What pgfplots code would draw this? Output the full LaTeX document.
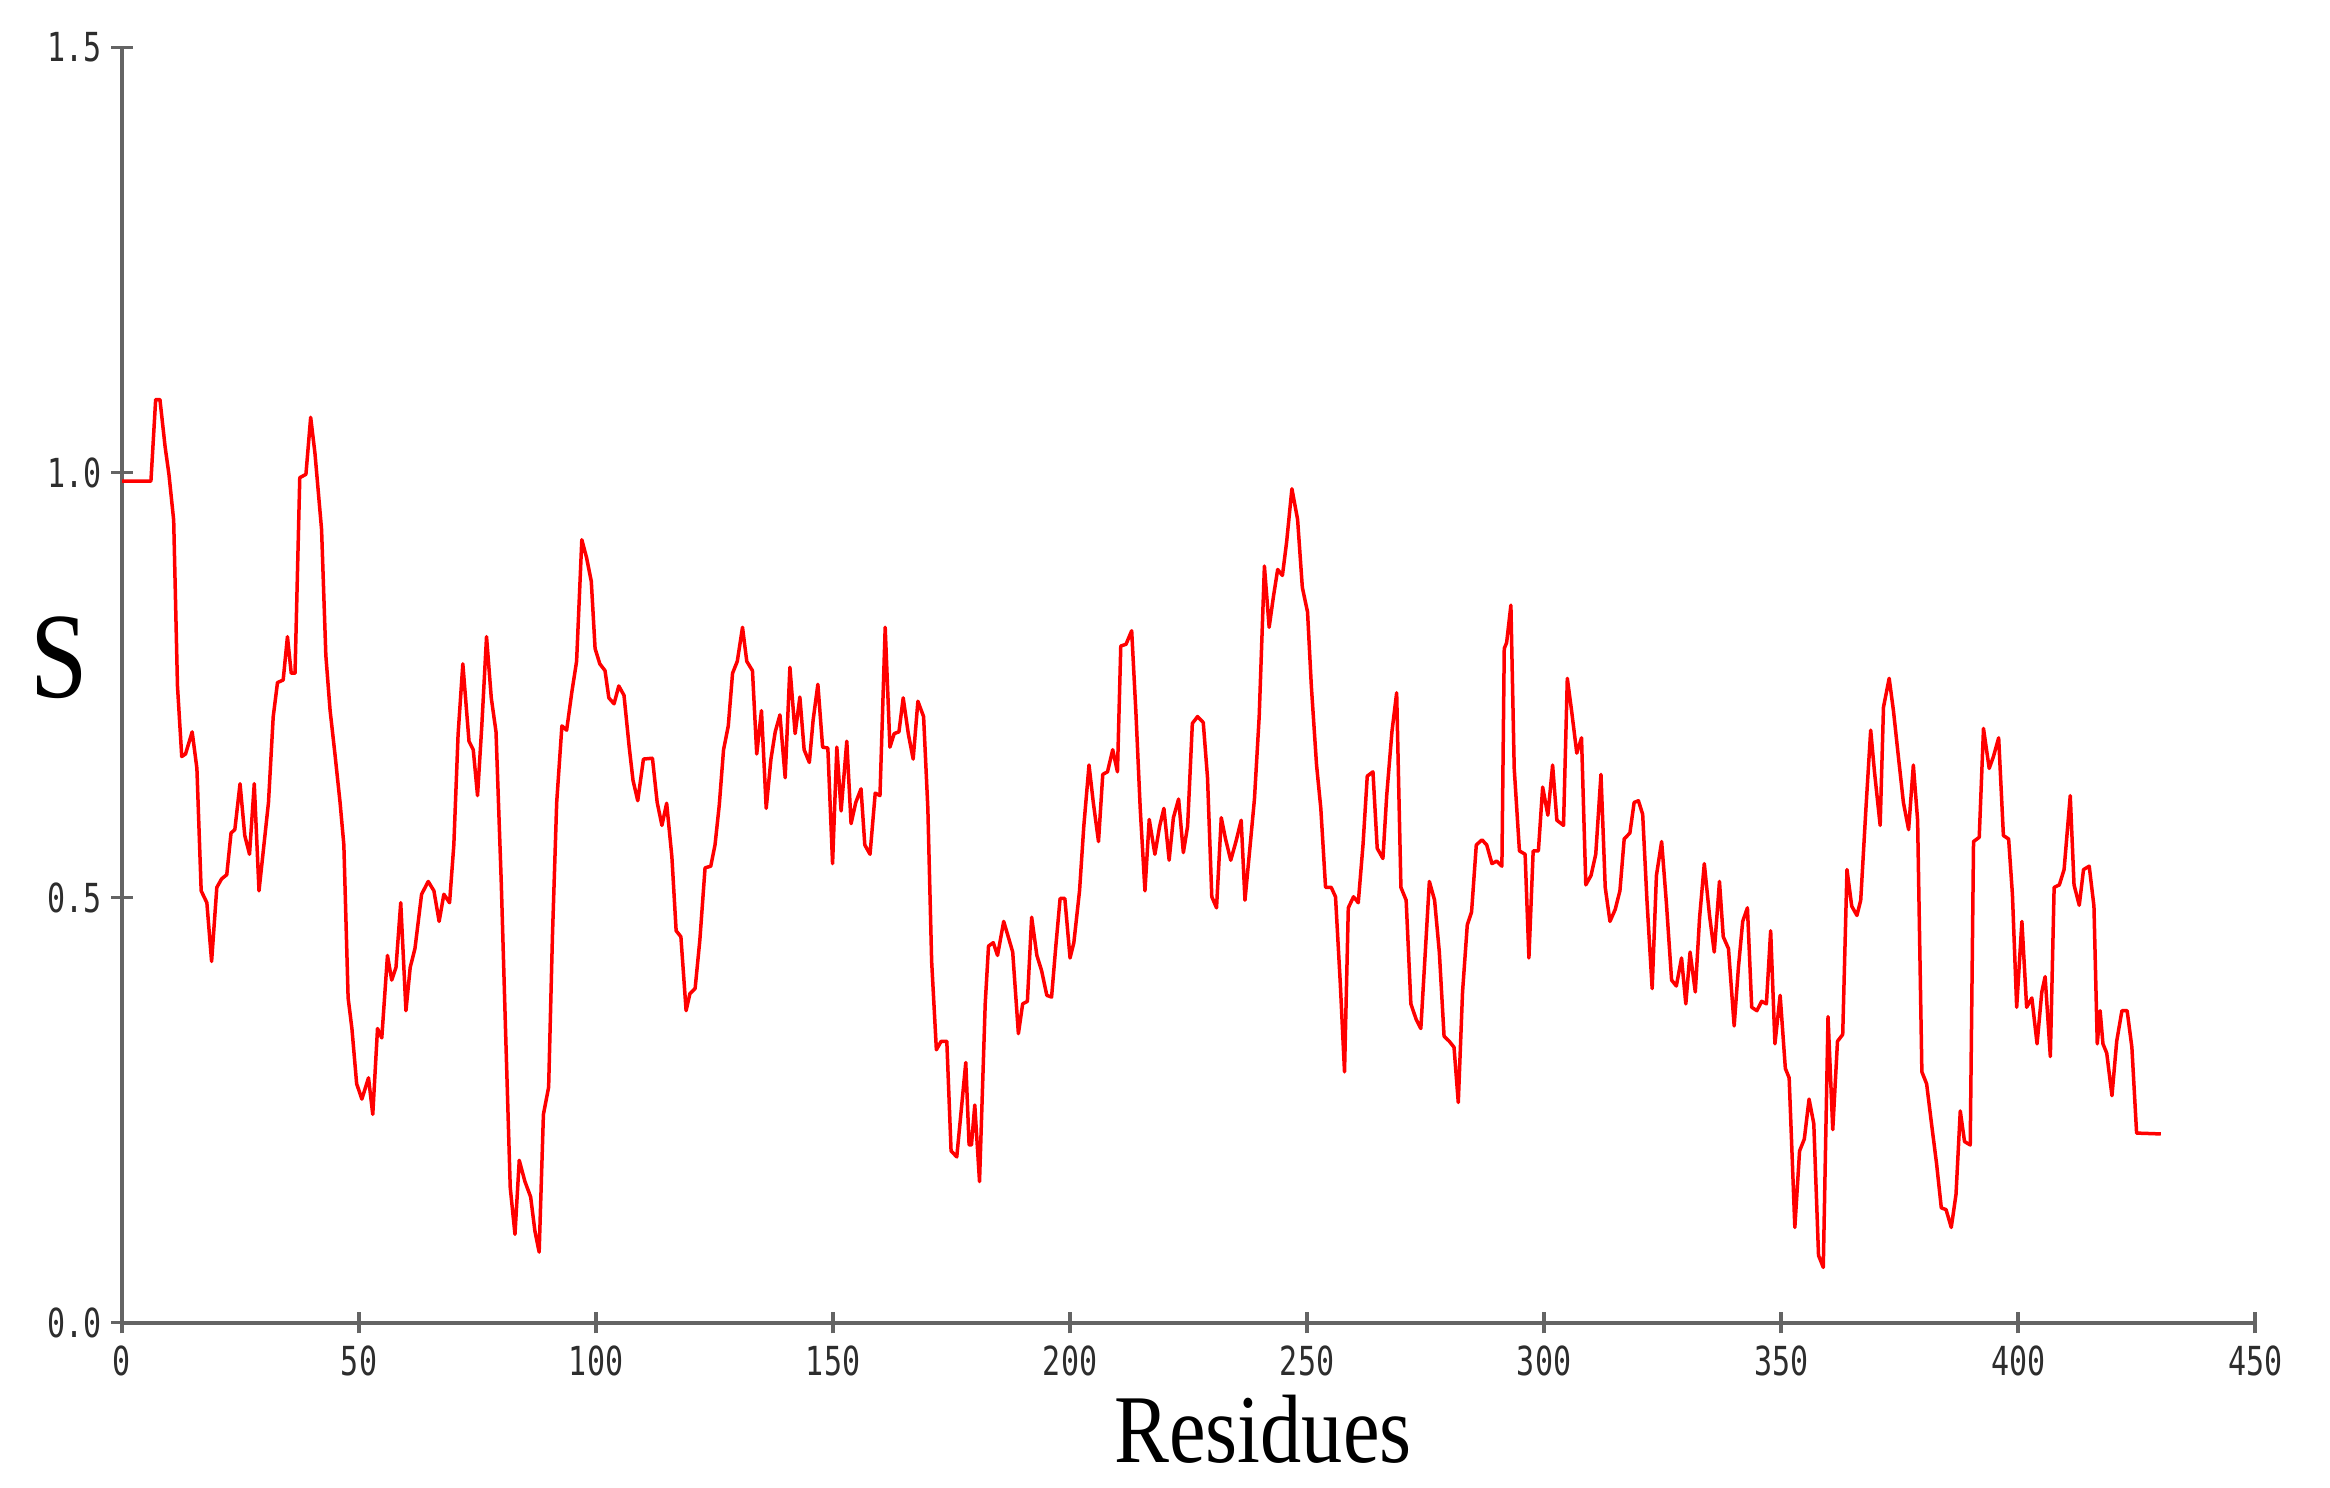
\documentclass[border=0pt]{standalone}
\usepackage{pgfplots}
\pgfplotsset{compat=1.18}
\usepackage{fontspec}
\setmainfont{Liberation Serif}
\newfontfamily\tickfont{DejaVu Sans Mono}
\definecolor{axisgray}{RGB}{100,100,100}
\definecolor{labelgray}{RGB}{45,45,45}
\pgfplotstableread{
r v
0 0.99
6.1 0.99
7.1 1.086
8.0 1.086
9.1 1.03
9.9 0.998
10.9 0.944
11.7 0.749
12.6 0.666
13.4 0.669
14.8 0.695
15.8 0.652
16.7 0.508
17.9 0.494
18.9 0.425
20.0 0.512
21.0 0.522
22.1 0.527
23.0 0.576
23.8 0.58
24.9 0.634
25.9 0.573
26.9 0.551
27.9 0.634
28.9 0.508
30.9 0.612
31.9 0.713
32.8 0.753
34.0 0.756
34.9 0.807
35.7 0.764
36.5 0.764
37.5 0.994
38.8 0.998
39.8 1.065
40.7 1.023
42.1 0.933
43.0 0.785
43.9 0.72
44.9 0.67
46.0 0.612
46.8 0.562
47.7 0.382
48.5 0.346
49.5 0.281
50.6 0.263
52.0 0.288
52.9 0.245
53.9 0.346
54.8 0.335
56.0 0.432
56.9 0.403
57.8 0.418
58.8 0.494
59.9 0.367
60.8 0.418
61.8 0.44
63.2 0.504
64.6 0.519
65.8 0.508
66.9 0.472
67.9 0.504
69.1 0.494
70.0 0.562
70.9 0.692
71.9 0.775
73.2 0.684
74.1 0.674
75.0 0.62
75.9 0.702
76.9 0.807
77.9 0.735
78.9 0.695
80.0 0.519
80.9 0.346
81.9 0.159
82.9 0.104
83.8 0.191
85.0 0.166
86.2 0.148
87.1 0.108
88.0 0.083
88.9 0.245
90.0 0.277
90.8 0.454
91.7 0.612
92.8 0.702
93.8 0.697
94.9 0.742
95.9 0.778
97.0 0.921
98.0 0.9
99.0 0.872
99.8 0.793
100.8 0.775
101.9 0.767
102.7 0.735
103.8 0.728
104.8 0.749
105.9 0.738
107.0 0.677
107.8 0.638
108.8 0.614
110.0 0.663
111.9 0.664
112.9 0.612
113.9 0.585
114.9 0.611
116.0 0.548
116.9 0.461
117.9 0.454
119.0 0.367
119.8 0.387
120.9 0.393
121.9 0.45
123.0 0.535
124.2 0.537
125.1 0.562
126.0 0.609
126.9 0.674
127.9 0.702
128.8 0.764
129.8 0.778
130.9 0.818
131.8 0.778
133.0 0.767
133.9 0.669
134.9 0.72
135.9 0.605
136.9 0.663
137.8 0.695
138.8 0.715
139.9 0.641
140.9 0.771
142.0 0.693
143.0 0.736
143.9 0.674
145.0 0.659
145.8 0.709
146.8 0.751
147.8 0.677
148.9 0.676
149.9 0.54
150.8 0.677
151.7 0.602
152.9 0.684
153.8 0.587
154.8 0.612
155.9 0.628
156.7 0.562
157.8 0.551
158.9 0.623
159.9 0.62
161.0 0.818
162.0 0.677
162.9 0.693
163.9 0.695
164.8 0.735
165.9 0.692
166.9 0.663
167.9 0.731
169.1 0.713
170.0 0.605
170.8 0.425
171.8 0.321
172.8 0.331
174.0 0.331
174.9 0.202
176.1 0.195
177.2 0.259
178.0 0.306
178.7 0.209
179.2 0.209
179.9 0.256
180.9 0.166
182.1 0.375
182.8 0.443
183.8 0.447
184.7 0.432
186.0 0.472
186.8 0.457
187.9 0.436
189.1 0.34
190.0 0.375
191.0 0.378
191.9 0.477
193.0 0.432
194.0 0.414
195.1 0.385
196.1 0.383
197.0 0.443
197.9 0.499
198.9 0.499
200.0 0.429
200.8 0.447
202.0 0.508
202.9 0.584
204.0 0.656
204.9 0.612
206.0 0.566
206.9 0.645
207.9 0.648
209.0 0.674
210.0 0.648
210.7 0.796
211.8 0.798
213.0 0.814
213.9 0.717
214.8 0.605
215.8 0.508
216.7 0.592
217.9 0.551
218.9 0.584
219.8 0.605
220.9 0.544
221.8 0.594
222.9 0.616
223.9 0.553
224.8 0.584
225.8 0.705
226.9 0.713
228.1 0.706
229.0 0.641
229.9 0.501
230.9 0.488
231.9 0.594
232.8 0.569
233.9 0.544
235.0 0.566
236.1 0.591
236.9 0.497
238.0 0.562
238.9 0.616
239.9 0.713
241.0 0.89
242.0 0.818
242.9 0.854
243.8 0.886
244.8 0.879
245.7 0.919
246.8 0.981
248.0 0.945
249.0 0.865
250.1 0.836
250.9 0.749
252.0 0.656
252.9 0.605
253.9 0.512
255.1 0.512
256.0 0.501
257.0 0.4
257.9 0.295
258.7 0.488
259.8 0.501
260.8 0.494
261.8 0.562
262.7 0.643
263.9 0.648
264.8 0.558
266.0 0.546
266.8 0.62
267.9 0.695
268.9 0.741
269.8 0.512
270.9 0.497
271.9 0.375
273.0 0.357
274.0 0.346
274.9 0.432
275.8 0.519
276.9 0.497
277.9 0.436
278.9 0.337
280.0 0.331
281.0 0.324
281.9 0.259
282.8 0.389
283.8 0.468
284.7 0.483
285.7 0.562
286.9 0.568
287.9 0.562
289.0 0.54
290.0 0.543
291.1 0.537
291.6 0.793
292.1 0.8
293.0 0.844
293.7 0.652
294.8 0.555
296.0 0.551
296.8 0.429
297.7 0.555
298.8 0.555
299.7 0.63
300.8 0.597
301.8 0.656
302.7 0.591
304.1 0.585
304.9 0.758
305.8 0.72
306.9 0.67
307.9 0.688
308.8 0.515
309.9 0.526
310.9 0.551
312.0 0.645
312.9 0.512
313.9 0.472
315.0 0.486
316.0 0.508
316.9 0.569
318.1 0.576
319.0 0.612
319.9 0.614
320.8 0.598
321.7 0.497
322.8 0.393
323.7 0.526
324.8 0.566
325.8 0.494
326.9 0.403
327.9 0.396
329.0 0.429
329.9 0.375
330.8 0.436
331.9 0.389
332.8 0.476
333.8 0.54
334.9 0.479
335.9 0.436
337.0 0.519
337.8 0.454
338.9 0.44
340.1 0.349
341.0 0.418
341.9 0.472
342.9 0.488
343.8 0.371
344.9 0.367
345.9 0.378
346.9 0.375
347.8 0.461
348.7 0.328
349.8 0.385
350.9 0.299
351.7 0.288
352.9 0.112
353.9 0.202
354.9 0.216
355.9 0.263
356.9 0.234
357.9 0.079
358.9 0.065
359.9 0.36
360.9 0.227
361.9 0.331
363.0 0.339
363.9 0.533
364.9 0.49
366.0 0.479
366.8 0.497
367.9 0.605
368.9 0.697
369.7 0.648
370.9 0.585
371.6 0.724
372.8 0.758
373.7 0.72
374.8 0.663
375.8 0.612
376.9 0.58
377.9 0.656
378.8 0.591
379.7 0.295
380.7 0.281
381.8 0.231
382.8 0.187
383.8 0.135
384.8 0.133
385.9 0.112
386.9 0.151
387.8 0.249
388.7 0.213
389.9 0.209
390.6 0.566
391.8 0.571
392.7 0.699
393.9 0.652
394.8 0.666
395.9 0.688
396.9 0.573
398.0 0.569
398.8 0.504
399.7 0.371
400.8 0.472
401.8 0.371
402.9 0.382
404.0 0.328
405.0 0.389
405.7 0.407
406.8 0.313
407.6 0.512
408.7 0.515
409.7 0.533
411.0 0.62
411.8 0.515
412.9 0.491
413.8 0.533
415.0 0.537
416.0 0.49
416.7 0.328
417.3 0.367
417.9 0.328
418.7 0.317
419.8 0.267
420.8 0.331
421.9 0.367
423.0 0.367
424.0 0.324
425.0 0.223
430.1 0.222
}\datatable
\begin{document}
\begin{tikzpicture}
\begin{axis}[
  scale only axis,
  width=639.9pt, height=382.5pt,
  xmin=0, xmax=450, ymin=0, ymax=1.5,
  axis x line*=bottom, axis y line*=left,
  axis line style={axisgray, line width=1.2pt},
  xtick={0,50,...,450},
  ytick={0,0.5,1,1.5},
  xticklabel={\scalebox{0.75}[1]{\pgfmathprintnumber{\tick}}},
  yticklabel={\scalebox{0.75}[1]{\pgfmathprintnumber[fixed,fixed zerofill,precision=1]{\tick}}},
  tick align=center,
  major tick length=6.5pt,
  tick style={axisgray, line width=1.1pt},
  /pgf/number format/assume math mode=true,
  tick label style={font=\tickfont\fontsize{12}{12}\selectfont, text=labelgray, inner sep=0pt},
  xticklabel style={yshift=-3.5pt},
  yticklabel style={xshift=-2.7pt},
  clip=false,
]
\addplot[red, line width=1.05pt, line join=round] table[x=r, y=v] {\datatable};
\node[anchor=base, inner sep=0pt, text height=24pt] at (axis cs:-13.3,0.735) {\scalebox{1}[1.18]{\fontsize{31}{31}\selectfont S}};
\node[anchor=base, inner sep=0pt, text height=19.5pt] at (axis cs:240.7,-0.164) {\scalebox{1}[1.18]{\fontsize{24.7}{24.7}\selectfont Residues}};
\coordinate (BL) at (axis cs:-25.74,-0.194);
\coordinate (TR) at (axis cs:465.8,1.556);
\end{axis}
\pgfresetboundingbox
\path[use as bounding box] (BL) rectangle (TR);
\end{tikzpicture}
\end{document}
